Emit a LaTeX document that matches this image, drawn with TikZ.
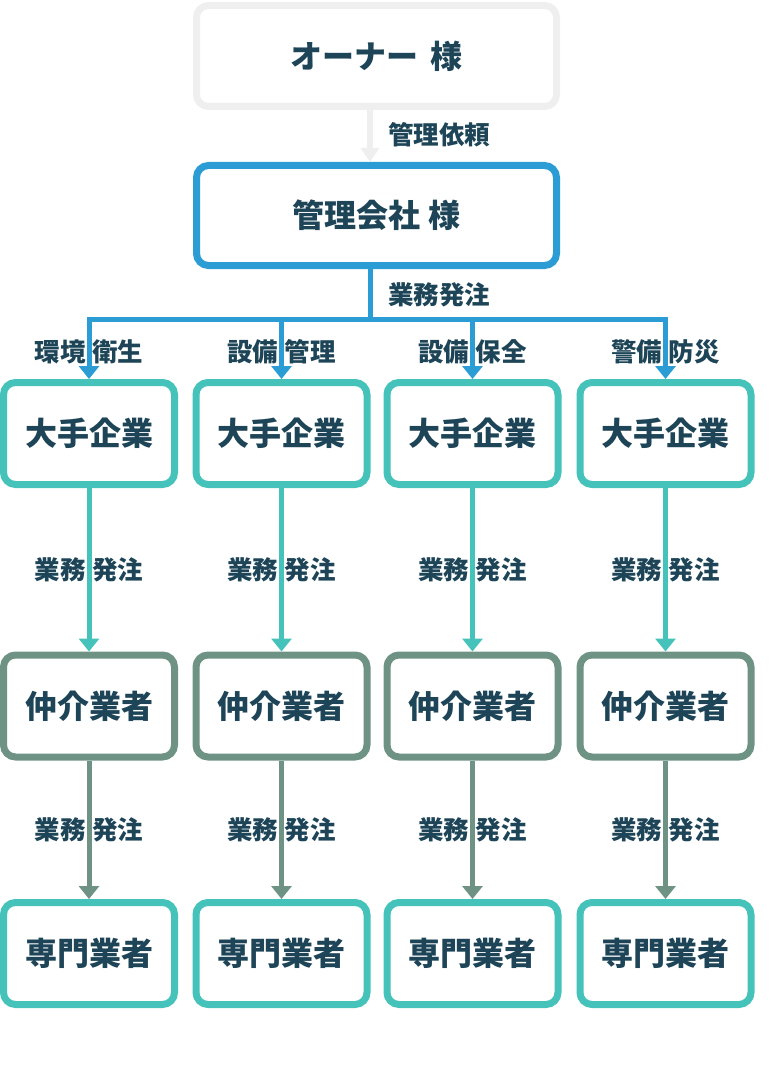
\documentclass[tikz,border=0pt]{standalone}
\usepackage{fontspec}
\setmainfont{Noto Sans CJK JP}
\usetikzlibrary{arrows.meta}
\definecolor{txt}{HTML}{1D4557}
\definecolor{lgray}{HTML}{EFEFEF}
\definecolor{cblue}{HTML}{2B9CD4}
\definecolor{cteal}{HTML}{45C3BA}
\definecolor{cgreen}{HTML}{6E9385}
\tikzset{
  box/.style={draw=#1, line width=7pt, rounded corners=12pt, fill=white, inner sep=0pt,
    outer sep=3.5pt, text=txt, font=\fontsize{32}{32}\selectfont\bfseries},
  wide/.style={minimum width=360pt, minimum height=101pt},
  cell/.style={minimum width=171pt, minimum height=102pt},
  conn/.style={draw=#1, line width=5pt, -{Triangle[width=20pt,length=13pt]}},
  lbl/.style={text=txt, font=\fontsize{25.5}{25.5}\selectfont\bfseries, inner sep=0pt},
}
\newcommand{\gp}{\hspace{7pt}}
\begin{document}
\begin{tikzpicture}[x=1pt,y=-1pt]
\useasboundingbox (0,0) rectangle (768,1086);
\node[box=lgray, wide] (owner) at (376.5,56) {オーナー\hspace{4pt} 様};
\node[box=cblue, wide, minimum height=100pt] (mgmt) at (376.5,215.5) {管理会社 様};
\coordinate (tx) at (370,0);
\coordinate (hy) at (0,319);
\draw[conn=lgray, line width=6pt, -{Triangle[width=18pt,length=14pt]}] (owner.south -| tx) -- (mgmt.north -| tx);
\node[lbl, anchor=west] (l0) at (388,135) {管理依頼};
\node[lbl, anchor=west] (l1) at (388,295) {業務発注};
\foreach \i/\x/\lab in {1/89/環境\gp 衛生, 2/281.5/設備\gp 管理, 3/472.5/設備\gp 保全, 4/665.5/警備\gp 防災}{
  \node[box=cteal, cell] (a\i) at (\x,433.5) {大手企業};
  \node[box=cgreen, cell] (b\i) at (\x,706) {仲介業者};
  \node[box=cteal, cell] (c\i) at (\x,953.5) {専門業者};
  \node[lbl] (t\i) at (\x,352) {\lab};
  \draw[conn=cteal] (a\i.south) -- node[lbl] (u\i) {業務\gp 発注} (b\i.north);
  \draw[conn=cgreen] (b\i.south) -- node[lbl] (v\i) {業務\gp 発注} (c\i.north);
}
\draw[cblue, line width=5pt] (mgmt.south -| tx) -- (hy -| tx);
\draw[cblue, line width=5pt] (hy -| a1.north) -- (hy -| a4.north);
\foreach \i in {1,2,3,4}{
  \draw[conn=cblue] ([yshift=2.5pt]hy -| a\i.north) -- (a\i.north);
}
\end{tikzpicture}
\end{document}
